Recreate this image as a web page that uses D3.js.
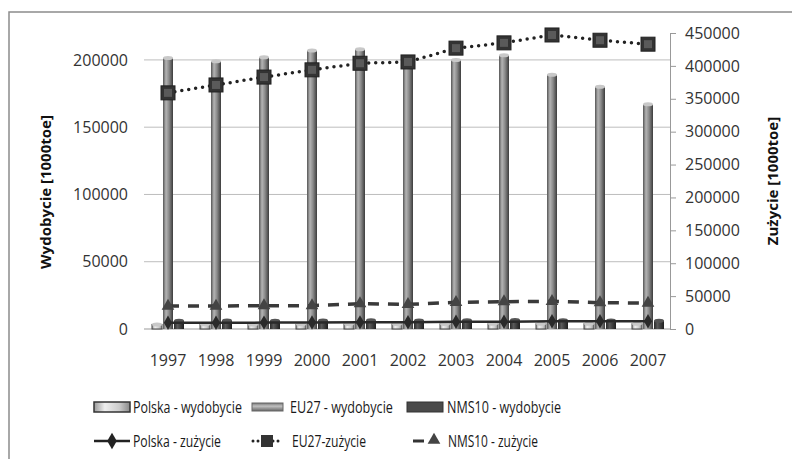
<!DOCTYPE html>
<html>
<head>
  <meta charset="UTF-8">
  <style>
    body { margin: 0; background: #fff; }
    svg { font-family: "Open Sans", sans-serif; }
  </style>
  <title>wydobycie i zuzycie</title>
</head>
<body>
<svg></svg>
<script src="https://d3js.org/d3.v7.min.js"></script>
<script>

let width = 792, height = 459;

// data [1000toe]
let years = ["1997","1998","1999","2000","2001","2002","2003","2004","2005","2006","2007"];
let plWyd   = [3400, 3500, 3400, 3500, 3700, 3800, 3800, 3900, 3900, 3900, 3900];
let eu27Wyd = [201500, 199000, 202000, 207000, 208000, 201000, 200000, 203500, 189000, 180000, 167000];
let nmsWyd  = [6200, 6300, 6200, 6300, 6500, 6400, 6500, 6600, 6500, 6400, 6200];
let plZuz   = [9500, 9600, 9700, 9800, 10100, 10200, 10900, 11100, 11700, 11900, 11800];
let eu27Zuz = [359000, 371000, 383000, 394000, 404000, 406000, 427000, 435000, 447000, 439000, 433000];
let nmsZuz  = [35000, 35000, 35500, 35500, 38500, 37500, 40500, 41500, 42000, 40000, 39500];
let leftTicks = [0, 50000, 100000, 150000, 200000];
let rightTicks = [0, 50000, 100000, 150000, 200000, 250000, 300000, 350000, 400000, 450000];

let svg = d3.select("svg")
    .attr("width", width)
    .attr("height", height);

let defs = svg.append("defs");
function cyl(id, stops) {
    let g = defs.append("linearGradient").attr("id", id).attr("x1", "0").attr("x2", "1");
    stops.forEach(s => g.append("stop").attr("offset", s[0]).attr("stop-color", s[1]));
}
cyl("gEU", [[0, "#555"], [0.3, "#b4b4b4"], [0.6, "#8a8a8a"], [1, "#3c3c3c"]]);
cyl("gPL", [[0, "#999"], [0.3, "#eee"], [0.7, "#ccc"], [1, "#888"]]);
cyl("gNMS", [[0, "#2a2a2a"], [0.35, "#5a5a5a"], [1, "#1e1e1e"]]);
let vg = defs.append("linearGradient").attr("id", "gEUleg").attr("x1", "0").attr("x2", "0").attr("y1", "0").attr("y2", "1");
[[0, "#777"], [0.4, "#c0c0c0"], [1, "#666"]].forEach(s => vg.append("stop").attr("offset", s[0]).attr("stop-color", s[1]));

// frame
svg.append("rect")
    .attr("x", 9).attr("y", 12)
    .attr("width", 800).attr("height", 470)
    .attr("fill", "none").attr("stroke", "#8c8c8c").attr("stroke-width", 1.5);

let x0 = d3.scaleBand().domain(years).range([144, 672]).paddingInner(0.3125).paddingOuter(0.15625);
let series = ["pl", "eu", "nms"];
let xs = d3.scaleBand().domain(series).range([0, x0.bandwidth()]);
let yL = d3.scaleLinear().domain([0, 220000]).range([329, 33]);
let yR = d3.scaleLinear().domain([0, 450000]).range([329, 33]);
let cx = d => x0(d) + x0.bandwidth() / 2;
let fmt = d3.format("d");

// gridlines
svg.append("g").selectAll("line")
    .data(leftTicks.slice(1))
  .enter().append("line")
    .attr("x1", 144).attr("x2", 670)
    .attr("y1", d => yL(d)).attr("y2", d => yL(d))
    .attr("stroke", "#bdbdbd");

// left axis labels
svg.append("g")
    .attr("transform", "translate(128,0)")
    .call(d3.axisLeft(yL).tickValues(leftTicks).tickFormat(fmt).tickSize(0).tickPadding(0))
    .call(g => g.select(".domain").remove())
    .selectAll("text")
    .attr("font-size", 16).attr("fill", "#333").attr("font-family", "Open Sans");

// right axis
let ra = svg.append("g")
    .attr("transform", "translate(670,0)")
    .call(d3.axisRight(yR).tickValues(rightTicks).tickFormat(fmt).tickSize(6).tickPadding(9).tickSizeOuter(0));
ra.select(".domain").attr("stroke", "#999");
ra.selectAll(".tick line").attr("stroke", "#999");
ra.selectAll("text").attr("font-size", 16).attr("fill", "#333").attr("font-family", "Open Sans");

// x axis
svg.append("line")
    .attr("x1", 144).attr("x2", 670).attr("y1", 329).attr("y2", 329)
    .attr("stroke", "#999");
svg.append("g").selectAll("text")
    .data(years)
  .enter().append("text")
    .attr("x", d => cx(d)).attr("y", 366)
    .attr("text-anchor", "middle")
    .attr("font-size", 16).attr("fill", "#333")
    .text(d => d);

// bars
let barW = 10;
function bars(vals, key, fill, stroke) {
    let g = svg.append("g");
    g.selectAll("rect")
        .data(years)
      .enter().append("rect")
        .attr("x", (d, i) => x0(d) + xs(key) + (xs.bandwidth() - barW) / 2)
        .attr("y", (d, i) => yL(vals[i]))
        .attr("width", barW)
        .attr("height", (d, i) => 329 - yL(vals[i]))
        .attr("fill", fill)
        .attr("stroke", stroke).attr("stroke-width", 1);
    g.selectAll("ellipse")
        .data(years)
      .enter().append("ellipse")
        .attr("cx", (d, i) => x0(d) + xs(key) + xs.bandwidth() / 2)
        .attr("cy", (d, i) => yL(vals[i]))
        .attr("rx", barW / 2).attr("ry", 2)
        .attr("fill", key == "nms" ? "#555" : "#c8c8c8");
}
bars(plWyd, "pl", "url(#gPL)", "#444");
bars(eu27Wyd, "eu", "url(#gEU)", "none");
bars(nmsWyd, "nms", "url(#gNMS)", "none");

// lines
let line = d3.line().x((d, i) => cx(years[i])).y(d => yR(d));

svg.append("path").datum(nmsZuz)
    .attr("d", line).attr("fill", "none")
    .attr("stroke", "#3a3a3a").attr("stroke-width", 3.5).attr("stroke-dasharray", "11,9");
svg.append("path").datum(plZuz)
    .attr("d", line).attr("fill", "none")
    .attr("stroke", "#2a2a2a").attr("stroke-width", 2.5);
svg.append("path").datum(eu27Zuz)
    .attr("d", line).attr("fill", "none")
    .attr("stroke", "#222").attr("stroke-width", 3.5)
    .attr("stroke-linecap", "round").attr("stroke-dasharray", "0,7");

let sym = (type, size) => d3.symbol().type(type).size(size);

svg.append("g").selectAll("path")
    .data(nmsZuz)
  .enter().append("path")
    .attr("transform", (d, i) => "translate(" + cx(years[i]) + "," + yR(d) + ")")
    .attr("d", sym(d3.symbolTriangle, 70)())
    .attr("fill", "#444");
svg.append("g").selectAll("path")
    .data(plZuz)
  .enter().append("path")
    .attr("transform", (d, i) => "translate(" + cx(years[i]) + "," + yR(d) + ")")
    .attr("d", sym(d3.symbolDiamond, 60)())
    .attr("fill", "#2a2a2a");
let sq = svg.append("g").selectAll("g")
    .data(eu27Zuz)
  .enter().append("g")
    .attr("transform", (d, i) => "translate(" + cx(years[i]) + "," + yR(d) + ")");
sq.append("rect").attr("x", -7).attr("y", -7).attr("width", 14).attr("height", 14)
    .attr("fill", "#333").attr("stroke", "#222");
sq.append("rect").attr("x", -4).attr("y", -4).attr("width", 8).attr("height", 8)
    .attr("fill", "#5a5a5a");

// axis titles
svg.append("text")
    .attr("transform", "translate(51,192) rotate(-90)")
    .attr("text-anchor", "middle")
    .attr("font-size", 15).attr("font-weight", "bold").attr("fill", "#111")
    .text("Wydobycie [1000toe]");
svg.append("text")
    .attr("transform", "translate(778,181) rotate(-90)")
    .attr("text-anchor", "middle")
    .attr("font-size", 15).attr("font-weight", "bold").attr("fill", "#111")
    .text("Zużycie [1000toe]");

// legend (text squeezed horizontally to the narrow look of the original)
let leg = svg.append("g");
function legText(x, y, t, len) {
    let tx = leg.append("text")
        .attr("font-size", 17).attr("fill", "#1a1a1a")
        .attr("x", 0).attr("y", 0)
        .text(t);
    let w = tx.node().getComputedTextLength();
    tx.attr("transform", "translate(" + x + "," + (y + 6) + ") scale(" + (len / w) + ",1)");
}
leg.append("rect").attr("x", 94).attr("y", 402).attr("width", 36).attr("height", 10)
    .attr("fill", "url(#gPL)").attr("stroke", "#333").attr("stroke-width", 1.5);
legText(133, 407, "Polska - wydobycie", 109);
leg.append("rect").attr("x", 252).attr("y", 403).attr("width", 31).attr("height", 8)
    .attr("fill", "url(#gEUleg)").attr("stroke", "#666");
legText(290, 407, "EU27 - wydobycie", 103);
leg.append("rect").attr("x", 407).attr("y", 402).attr("width", 36).attr("height", 10)
    .attr("fill", "#4a4a4a").attr("stroke", "#333");
legText(447, 407, "NMS10 - wydobycie", 114);

leg.append("line").attr("x1", 94).attr("x2", 130).attr("y1", 441).attr("y2", 441)
    .attr("stroke", "#222").attr("stroke-width", 2.5);
leg.append("path").attr("transform", "translate(112,441)").attr("d", sym(d3.symbolDiamond, 80)()).attr("fill", "#222");
legText(133, 441, "Polska - zużycie", 88);
leg.append("line").attr("x1", 253).attr("x2", 282).attr("y1", 441).attr("y2", 441)
    .attr("stroke", "#222").attr("stroke-width", 3)
    .attr("stroke-linecap", "round").attr("stroke-dasharray", "0,5");
leg.append("rect").attr("x", 261).attr("y", 435).attr("width", 12).attr("height", 12).attr("fill", "#333");
legText(292, 441, "EU27-zużycie", 74);
leg.append("line").attr("x1", 413).attr("x2", 424).attr("y1", 441).attr("y2", 441)
    .attr("stroke", "#333").attr("stroke-width", 3);
leg.append("path").attr("transform", "translate(434,440)").attr("d", sym(d3.symbolTriangle, 70)()).attr("fill", "#444");
legText(448, 441, "NMS10 - zużycie", 90);

</script>
</body>
</html>
